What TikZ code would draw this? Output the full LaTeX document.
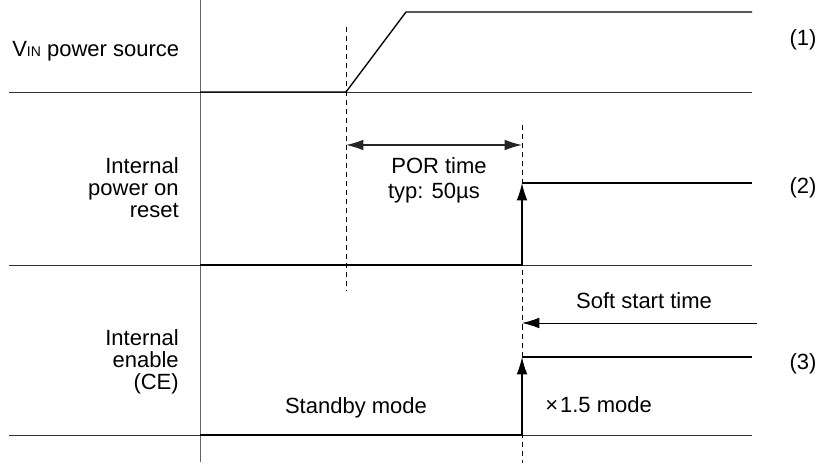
\documentclass[tikz,border=0pt]{standalone}
\usepackage{fontspec}
\setmainfont{Liberation Sans}
\usetikzlibrary{arrows.meta}
\newcommand{\labelSize}[0]{\fontsize{16.5}{16.7}\selectfont}
\newcommand{\vinText}[0]{V{\fontsize{10.5}{12}\selectfont IN}}
\newcommand{\tipLen}[0]{13pt}

\begin{document}
\begin{tikzpicture}[x=0.75pt, y=-0.75pt]
  \tikzset{every node/.style={font=\labelSize, inner sep=0pt},
    base line/.style={line width=0.6pt, black!80},
    signal/.style={line width=1pt},
    guide/.style={dash pattern=on 3.8pt off 3pt, line width=0.6pt},
    tip/.style={-{Latex[length=\tipLen, width=8pt]}, line width=0.9pt}}
  \useasboundingbox (0,0) rectangle (821,463);
  % time axis and rails
  \coordinate (axis-top) at (200,0);
  \coordinate (axis-bot) at (200,462);
  \draw[line width=0.6pt, black!60] (axis-top) -- (axis-bot);
  \draw[base line] (9,92) -- (752,92);
  \draw[base line] (9,265) -- (752,265);
  \draw[base line] (9,435) -- (752,435);
  % markers
  \coordinate (vin-on) at (346,92);
  \coordinate (por-end) at (522,265);
  \draw[guide] (346,27) -- (346,291);
  \draw[guide] (522,125) -- (522,463);
  % (1) VIN
  \coordinate (vin-top) at (406,12);
  \draw[signal] (200,92) -- (vin-on) -- (vin-top) -- (752,12);
  % (2) power on reset
  \coordinate (por-high) at (522,183);
  \draw[signal] (200,265) -- (por-end);
  \draw[tip] (por-end) -- (por-high);
  \draw[signal] (por-high) -- (752,183);
  \coordinate (por-a) at (346,145);
  \coordinate (por-b) at (522,145);
  \draw[{Latex[length=\tipLen, width=8pt]}-{Latex[length=\tipLen, width=8pt]}, line width=0.9pt, black!85] (por-a) -- (por-b);
  % (3) enable
  \coordinate (ce-low) at (522,435);
  \coordinate (ce-high) at (522,357);
  \coordinate (soft-a) at (757,323);
  \coordinate (soft-b) at (522,323);
  \draw[signal] (200,435) -- (ce-low);
  \draw[tip] (ce-low) -- (ce-high);
  \draw[signal] (ce-high) -- (752,357);
  \draw[tip, line width=0.7pt] (soft-a) -- (soft-b);
  % labels
  \node[anchor=base west] (vin) at (12,57) {\vinText\ power source};
  \node[anchor=north east, align=right] (por-lbl) at (179,157) {Internal\\power on\\reset};
  \node[anchor=north east, align=right] (ce-lbl) at (179,329) {Internal\\enable\\(CE)};
  \node[anchor=base] (por-time) at (439,174) {POR time};
  \node[anchor=base] (por-typ) at (434,199) {typ: 50µs};
  \node[anchor=base] (standby) at (356,413) {Standby mode};
  \node[anchor=base west] (x15) at (545,412) {×\kern1.5pt1.5 mode};
  \node[anchor=base] (soft) at (644,309) {Soft start time};
  \node[anchor=base] (n1) at (803,46) {(1)};
  \node[anchor=base] (n2) at (803,194) {(2)};
  \node[anchor=base] (n3) at (803,369) {(3)};
\end{tikzpicture}
\end{document}
